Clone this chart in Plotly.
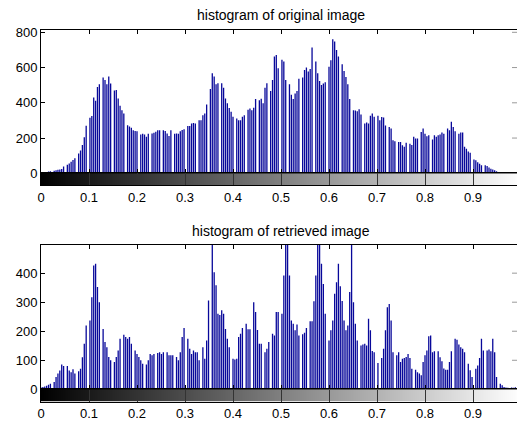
import plotly.graph_objects as go

# ---------------- data ----------------
bins = list(range(256))

orig_counts = [
    2, 4, 5, 8, 10, 12, 0, 14, 18, 20,
    22, 24, 38, 0, 48, 55, 66, 76, 86, 0,
    112, 130, 160, 205, 270, 0, 315, 325, 430, 412,
    490, 505, 0, 543, 530, 505, 549, 510, 0, 470,
    472, 425, 383, 358, 340, 0, 272, 265, 258, 244,
    240, 238, 0, 220, 225, 220, 207, 225, 0, 226,
    230, 236, 244, 244, 0, 244, 240, 226, 212, 244,
    0, 225, 226, 225, 238, 245, 250, 0, 269, 269,
    282, 285, 282, 0, 301, 301, 330, 340, 391, 0,
    478, 568, 549, 505, 511, 0, 511, 486, 425, 397,
    370, 349, 321, 0, 311, 301, 301, 321, 330, 0,
    360, 368, 358, 372, 421, 0, 415, 423, 397, 486,
    511, 0, 467, 530, 663, 672, 596, 0, 645, 634,
    530, 0, 505, 446, 421, 453, 467, 537, 0, 543,
    586, 600, 577, 592, 714, 0, 634, 568, 524, 501,
    510, 516, 0, 604, 641, 760, 748, 700, 663, 0,
    619, 581, 547, 505, 421, 0, 358, 357, 352, 363,
    334, 0, 282, 288, 282, 326, 340, 321, 0, 326,
    301, 320, 317, 271, 0, 263, 254, 187, 182, 0,
    178, 178, 159, 150, 173, 0, 168, 160, 207, 197,
    197, 0, 235, 254, 225, 210, 216, 0, 192, 216,
    207, 216, 220, 232, 225, 0, 254, 244, 292, 263,
    238, 0, 225, 232, 232, 150, 140, 124, 117, 0,
    79, 74, 62, 54, 45, 0, 45, 41, 33, 26,
    22, 18, 12, 0, 8, 6, 5, 5, 4, 0,
    4, 3, 3, 2, 2, 1,
]

retr_counts = [
    6, 8, 10, 12, 16, 19, 0, 25, 42, 54,
    65, 85, 80, 0, 80, 65, 59, 69, 54, 0,
    62, 71, 110, 157, 220, 0, 237, 317, 426, 432,
    352, 300, 0, 208, 163, 145, 111, 100, 0, 94,
    111, 134, 174, 0, 188, 180, 174, 180, 157, 0,
    134, 122, 111, 100, 88, 0, 85, 100, 122, 117,
    122, 0, 125, 128, 122, 128, 0, 128, 117, 117,
    117, 0, 111, 100, 128, 180, 211, 0, 174, 140,
    122, 134, 128, 128, 100, 0, 145, 105, 168, 306,
    0, 620, 403, 358, 260, 256, 272, 260, 208, 174,
    145, 0, 105, 103, 105, 180, 191, 211, 0, 226,
    207, 207, 0, 300, 266, 204, 157, 157, 0, 128,
    140, 163, 0, 191, 185, 266, 266, 0, 260, 392,
    720, 560, 392, 237, 226, 203, 223, 185, 0, 190,
    195, 211, 0, 234, 234, 303, 392, 800, 600, 432,
    363, 260, 0, 168, 203, 237, 329, 369, 432, 355,
    304, 237, 203, 220, 335, 900, 300, 226, 168, 0,
    151, 154, 157, 151, 243, 203, 132, 128, 0, 91,
    0, 108, 140, 203, 283, 294, 237, 128, 0, 117,
    128, 94, 105, 108, 111, 122, 108, 71, 0, 67,
    59, 54, 48, 94, 117, 134, 183, 185, 128, 131,
    0, 131, 110, 97, 72, 67, 67, 94, 131, 0,
    174, 171, 154, 145, 140, 128, 0, 88, 66, 42,
    0, 71, 82, 108, 174, 134, 0, 134, 137, 131,
    174, 128, 42, 0, 19, 14, 8, 6, 5, 0,
    6, 5, 7, 4, 5, 8,
]

xtick_vals = [0, 0.1, 0.2, 0.3, 0.4, 0.5, 0.6, 0.7, 0.8, 0.9, 1.0]
xtick_text = ["0", "0.1", "0.2", "0.3", "0.4", "0.5", "0.6", "0.7", "0.8", "0.9", "1"]
top_yticks = [0, 200, 400, 600, 800]
bot_yticks = [0, 100, 200, 300, 400]
titles = ["histogram of original image", "histogram of retrieved image"]

assert len(orig_counts) == 256 and len(retr_counts) == 256

# ---------------- layout helpers ----------------
W, H = 517, 421
FONT = "Liberation Sans, Arial, sans-serif"
X_LEFT = 41
XMAX = (W - X_LEFT) / 480.0  # axis visible up to ~0.992 (1.0 is cut off)


def py(p):
    return 1 - p / H


levels = [b / 255 for b in bins]
stem_color = "#08089a"


def stems(counts):
    xs, ys = [], []
    for lv, c in zip(levels, counts):
        xs += [lv, lv, None]
        ys += [0, c, None]
    return xs, ys


fig = go.Figure()

panels = [
    ("", "2", orig_counts, top_yticks, 816, 29.5, 173.3, 185.0, 14.5),
    ("3", "4", retr_counts, bot_yticks, 497, 245.0, 389.3, 401.7, 231.0),
]

shapes = []
annotations = []
for i, (hs, cs, counts, yt, ytop, top_px, bot_px, cb_px, title_px) in enumerate(panels):
    xa = "x" + hs
    ya = "y" + hs
    sx, sy = stems(counts)
    fig.add_trace(go.Scatter(
        x=sx, y=sy, mode="lines",
        line=dict(color=stem_color, width=1.3),
        xaxis=xa, yaxis=ya, showlegend=False, hoverinfo="skip",
    ))
    fig.add_trace(go.Heatmap(
        z=[levels], x=levels, y=[0],
        colorscale=[[0, "black"], [1, "white"]], zmin=0, zmax=1,
        showscale=False, xaxis="x" + cs, yaxis="y" + cs, hoverinfo="skip",
    ))

    hx = "xaxis" + hs
    hy = "yaxis" + hs
    cx = "xaxis" + cs
    cy = "yaxis" + cs
    fig.update_layout({
        hx: dict(domain=[X_LEFT / W, 1], range=[0, XMAX], anchor=ya,
                 tickvals=xtick_vals, showticklabels=False,
                 ticks="inside", ticklen=4, tickcolor="#000000",
                 showline=True, linecolor="#000000", linewidth=1,
                 mirror="ticks", showgrid=False, zeroline=False,
                 automargin=False),
        hy: dict(domain=[py(bot_px), py(top_px)], range=[0, ytop], anchor=xa,
                 tickvals=yt, ticks="inside", ticklen=4, tickcolor="#000000",
                 showline=True, linecolor="#000000", linewidth=1,
                 showgrid=False, zeroline=False, automargin=False,
                 tickfont=dict(family=FONT, size=13, color="#000000")),
        cx: dict(domain=[X_LEFT / W, 1], range=[0, XMAX], anchor="y" + cs,
                 tickvals=xtick_vals, ticktext=xtick_text,
                 ticks="inside", ticklen=12, tickcolor="#333333",
                 showline=True, linecolor="#000000", linewidth=1, mirror=True,
                 showgrid=False, zeroline=False, automargin=False,
                 tickfont=dict(family=FONT, size=13, color="#000000")),
        cy: dict(domain=[py(cb_px), py(bot_px)], range=[-0.5, 0.5], anchor="x" + cs,
                 showticklabels=False, ticks="", showline=True,
                 linecolor="#000000", mirror=True, showgrid=False,
                 zeroline=False, automargin=False),
    })

    for v in yt[1:]:
        shapes.append(dict(type="line", xref="paper", yref=ya,
                           x0=(W - 5) / W, x1=1.0, y0=v, y1=v,
                           line=dict(color="#9a9a9a", width=1)))

    annotations.append(dict(
        text=titles[i], xref="paper", yref="paper",
        x=(X_LEFT + 240) / W, y=py(title_px), xanchor="center", yanchor="middle",
        showarrow=False, font=dict(family=FONT, size=14, color="#000000"),
    ))

fig.update_layout(
    template="none",
    width=W, height=H,
    margin=dict(l=0, r=0, t=0, b=0, pad=0),
    paper_bgcolor="#ffffff", plot_bgcolor="#ffffff",
    showlegend=False,
    shapes=shapes, annotations=annotations,
)

fig.write_html(
    "out.html",
    config={"displayModeBar": False},
    post_script="document.body.style.margin='0px';document.body.style.padding='0px';",
)
